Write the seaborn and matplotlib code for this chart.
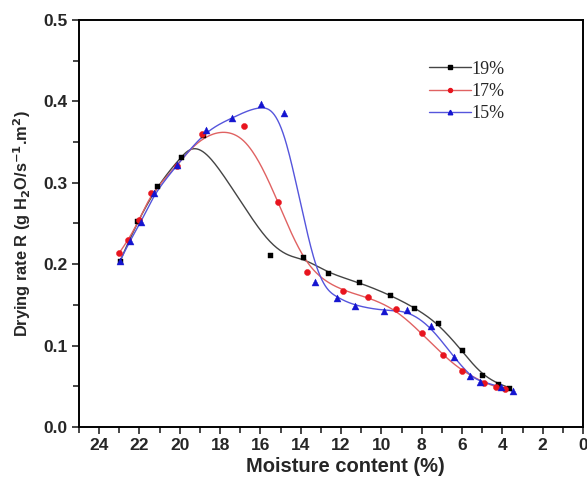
import numpy as np
import pandas as pd
import matplotlib
matplotlib.use("Agg")
import matplotlib.pyplot as plt
import seaborn as sns
from matplotlib.ticker import MultipleLocator

# ---- data ----
x19 = [22.96, 22.10, 21.14, 19.94, 18.86, 15.52, 13.90, 12.67, 11.09, 9.56, 8.36, 7.20, 6.02, 5.03, 4.24, 3.66]
y19 = [0.204, 0.253, 0.296, 0.332, 0.359, 0.2116, 0.209, 0.189, 0.1776, 0.162, 0.1468, 0.1275, 0.0943, 0.0636, 0.0533, 0.0484]

x17 = [23.01, 22.55, 22.00, 21.42, 20.12, 18.90, 16.81, 15.12, 13.70, 11.91, 10.67, 9.30, 8.01, 6.95, 6.02, 4.93, 4.32, 3.86]
y17 = [0.2136, 0.230, 0.254, 0.288, 0.321, 0.360, 0.3695, 0.2768, 0.191, 0.167, 0.1595, 0.1448, 0.1152, 0.0886, 0.0693, 0.0546, 0.0492, 0.0472]

x15 = [22.96, 22.48, 21.90, 21.26, 20.12, 18.71, 17.39, 15.98, 14.84, 13.30, 12.21, 11.30, 9.86, 8.73, 7.56, 6.42, 5.59, 5.11, 4.05, 3.49]
y15 = [0.204, 0.229, 0.252, 0.2875, 0.322, 0.3646, 0.3797, 0.3966, 0.3855, 0.1784, 0.159, 0.1489, 0.1427, 0.1435, 0.1239, 0.0861, 0.0628, 0.0558, 0.0492, 0.0439]

labels = ["19%", "17%", "15%"]
xticks = [24, 22, 20, 18, 16, 14, 12, 10, 8, 6, 4, 2, 0]
yticks = [0.0, 0.1, 0.2, 0.3, 0.4, 0.5]


def bspline(px, py, n=500, k=3):
    """Clamped cubic B-spline using the data points as control points."""
    px = np.asarray(px, float)
    py = np.asarray(py, float)
    m = len(px)
    knots = np.concatenate([np.zeros(k), np.linspace(0, 1, m - k + 1), np.ones(k)])
    t = np.linspace(0, 1, n)
    t[-1] -= 1e-9
    B = np.array([((knots[i] <= t) & (t < knots[i + 1])).astype(float)
                  for i in range(len(knots) - 1)])
    for d in range(1, k + 1):
        Bn = np.zeros((len(knots) - 1 - d, n))
        for i in range(len(knots) - 1 - d):
            d1 = knots[i + d] - knots[i]
            d2 = knots[i + d + 1] - knots[i + 1]
            a = (t - knots[i]) / d1 * B[i] if d1 > 0 else 0.0
            b = (knots[i + d + 1] - t) / d2 * B[i + 1] if d2 > 0 else 0.0
            Bn[i] = a + b
        B = Bn
    return B.T @ px, B.T @ py


sns.set_theme(style="ticks")
plt.rcParams["font.family"] = ["Liberation Sans", "DejaVu Sans"]

fig = plt.figure(figsize=(5.87, 4.78), dpi=100)
ax = fig.add_axes([79 / 587, 51 / 478, 504 / 587, 407 / 478])

series = [
    (x19, y19, labels[0], "#444444", "black", "s", 3.6),
    (x17, y17, labels[1], "#e06262", "#e8141e", "o", 4.4),
    (x15, y15, labels[2], "#5555dc", "#1414d0", "^", 5.0),
]

handles = []
for xs, ys, lab, lc, mc, mk, ms in series:
    cx, cy = bspline(xs, ys)
    curve = pd.DataFrame({"x": cx, "y": cy})
    sns.lineplot(data=curve, x="x", y="y", sort=False, estimator=None,
                 color=lc, lw=1.0, ax=ax)
    pts = pd.DataFrame({"x": xs, "y": ys})
    sns.scatterplot(data=pts, x="x", y="y", marker=mk, color=mc,
                    s=ms ** 2, edgecolor=mc, linewidth=0.3, ax=ax, zorder=3)
    h, = ax.plot([], [], color=lc, lw=1.0, marker=mk, markersize=ms * 0.65,
                 markerfacecolor=mc, markeredgecolor=mc)
    handles.append(h)

ax.set_xlim(25, 0)
ax.set_ylim(0, 0.5)
ax.set_xticks(xticks)
ax.set_yticks(yticks)
ax.set_xticklabels([str(v) for v in xticks])
ax.set_yticklabels([f"{v:.1f}" for v in yticks])
ax.xaxis.set_minor_locator(MultipleLocator(1))
ax.yaxis.set_minor_locator(MultipleLocator(0.05))
ax.tick_params(which="major", direction="out", length=5, width=1.2,
               labelsize=12.5, pad=3, top=False, right=False)
ax.tick_params(which="minor", direction="out", length=4, width=1.2,
               top=False, right=False)
for lbl in ax.get_xticklabels() + ax.get_yticklabels():
    lbl.set_fontweight("bold")
for sp in ax.spines.values():
    sp.set_visible(True)
    sp.set_linewidth(1.4)
    sp.set_color("black")

ax.set_xlabel("Moisture content (%)", fontsize=14.5, fontweight="bold")
ax.xaxis.set_label_coords(0.528, -0.074)
ax.set_ylabel(r"Drying rate R (g H$_\mathbf{2}$O/s$^\mathbf{-1}$.m$^\mathbf{2}$)",
              fontsize=11.8, fontweight="bold")
ax.yaxis.set_label_coords(-0.092, 0.5)

leg = ax.legend(handles, labels, loc="upper left", bbox_to_anchor=(0.68, 0.918),
                frameon=False, handlelength=2.35, handletextpad=0.0,
                labelspacing=0.3, borderaxespad=0,
                prop={"family": "Liberation Serif", "size": 13})

fig.savefig("out.png", dpi=100, facecolor="white")
